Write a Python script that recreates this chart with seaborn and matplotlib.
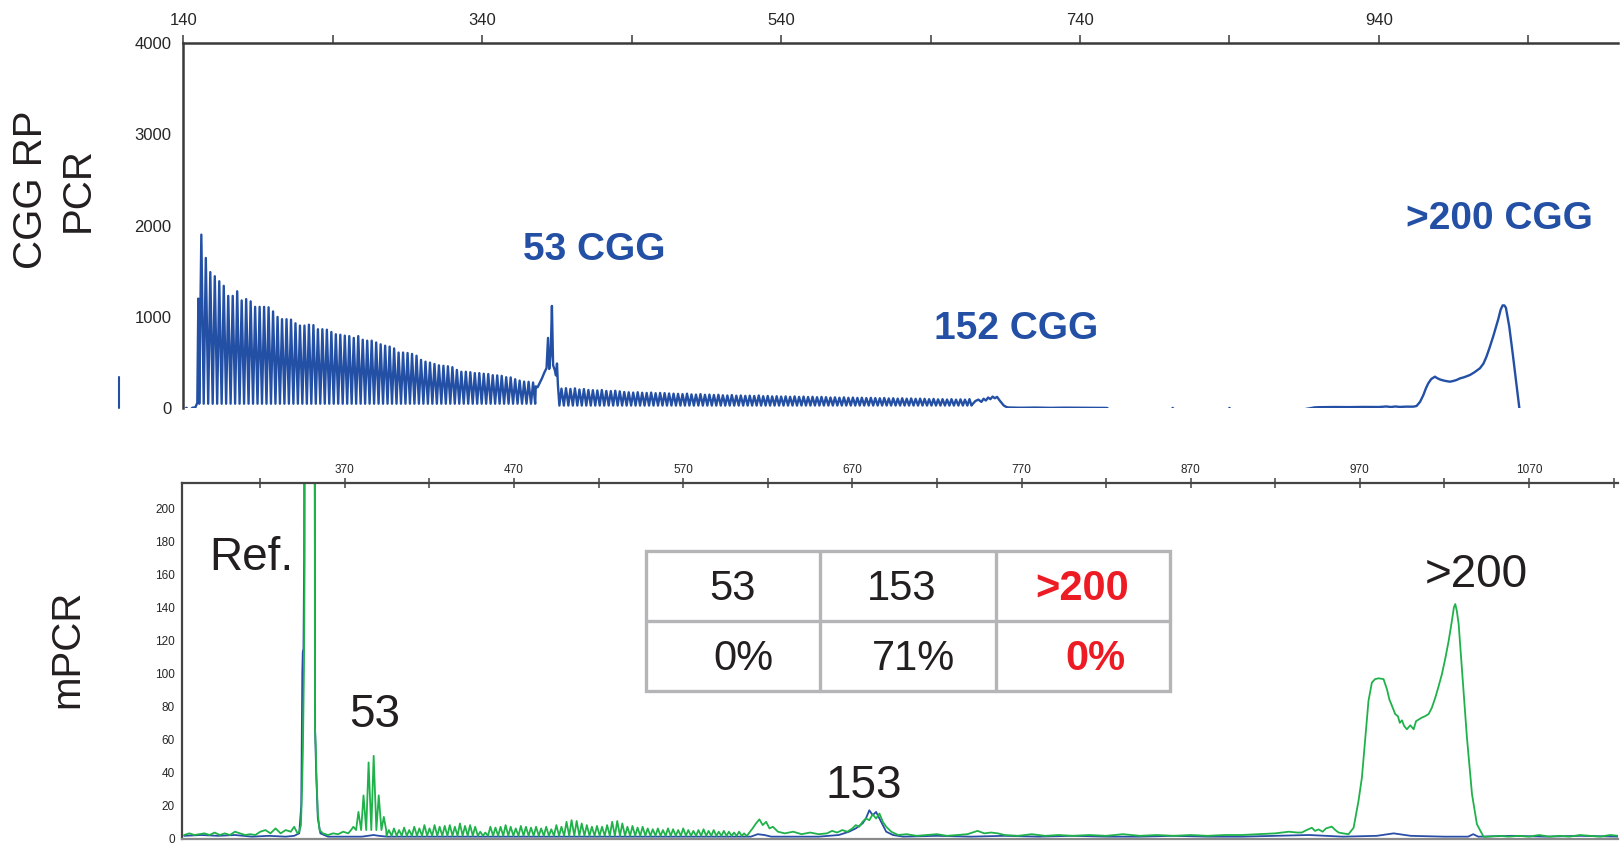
import matplotlib
matplotlib.use("Agg")
import matplotlib.pyplot as plt
import seaborn as sns
import pandas as pd
from matplotlib.lines import Line2D
from matplotlib.patches import Rectangle

# ---------------- data ----------------
# Top panel: CGG RP PCR, size (bp) vs fluorescence (RFU)
top_lead_bp = [140, 142, 144, 146, 148, 149.3, 150.0, 150.4]
top_lead_rfu = [-30, 6, -30, 6, 10, 60, 1200, 1000]

top_comb1_bp = [152, 155, 158, 161, 164, 167, 170, 173, 176, 179,
                182, 185, 188, 191, 194, 197, 200, 203, 206, 209,
                212, 215, 218, 221, 224, 227, 230, 233, 236, 239,
                242, 245, 248, 251, 254, 257, 260, 263, 266, 269,
                272, 275, 278, 281, 284, 287, 290, 293, 296, 299,
                302, 305, 308, 311, 314, 317, 320, 323, 326, 329,
                332, 335, 338, 341, 344, 347, 350, 353, 356, 359,
                362, 365, 368, 371, 374]
top_comb1_rfu = [1900, 1645, 1490, 1445, 1390, 1340, 1230, 1230, 1280, 1180,
                 1195, 1170, 1110, 1110, 1110, 1105, 1060, 1000, 975, 975,
                 970, 930, 905, 905, 915, 910, 865, 865, 860, 835,
                 810, 805, 795, 790, 770, 790, 750, 740, 740, 720,
                 700, 685, 675, 655, 610, 610, 605, 595, 575, 530,
                 510, 500, 485, 470, 465, 460, 450, 420, 400, 400,
                 395, 385, 385, 378, 375, 362, 360, 355, 340, 338,
                 318, 303, 292, 290, 282]
top_comb1_trough = 50

top_53_bp = [375.8, 377, 378.5, 380, 381.5, 383, 384, 384.8, 385.8, 386.6,
             387.4, 388.5, 389.3, 390, 390.6, 391.2]
top_53_rfu = [240, 230, 280, 330, 390, 440, 770, 430, 600, 1120,
              470, 420, 360, 490, 260, 120]

top_comb2_bp = [393, 396, 399, 402, 405, 408, 411, 414, 417, 420,
                423, 426, 429, 432, 435, 438, 441, 444, 447, 450,
                453, 456, 459, 462, 465, 468, 471, 474, 477, 480,
                483, 486, 489, 492, 495, 498, 501, 504, 507, 510,
                513, 516, 519, 522, 525, 528, 531, 534, 537, 540,
                543, 546, 549, 552, 555, 558, 561, 564, 567, 570,
                573, 576, 579, 582, 585, 588, 591, 594, 597, 600,
                603, 606, 609, 612, 615, 618, 621, 624, 627, 630,
                633, 636, 639, 642, 645, 648, 651, 654, 657, 660,
                663, 666]
top_comb2_rfu = [215, 220, 212, 218, 205, 210, 200, 198, 195, 200,
                 190, 188, 192, 185, 178, 175, 172, 176, 170, 168,
                 172, 165, 168, 166, 162, 160, 158, 155, 160, 152,
                 150, 155, 148, 150, 146, 148, 142, 140, 145, 138,
                 140, 136, 138, 135, 140, 132, 135, 130, 132, 128,
                 130, 126, 130, 125, 128, 124, 126, 122, 125, 122,
                 118, 120, 116, 120, 115, 118, 114, 116, 112, 115,
                 112, 110, 113, 108, 110, 106, 110, 105, 108, 104,
                 106, 104, 100, 103, 98, 100, 96, 100, 95, 98,
                 95, 100]
top_comb2_trough = 30

top_152_bp = [667.5, 670, 672, 674, 675.5, 677, 678.5, 680, 681.5, 683,
              684.5, 686, 687.5, 689, 691, 693]
top_152_rfu = [35, 80, 95, 70, 105, 85, 118, 100, 128, 110,
               125, 90, 60, 30, 12, 8]

top_base_bp = [695, 700, 710, 720, 730, 740, 750, 758, 762, 800,
               802, 804, 838, 840, 842, 880, 897, 900, 910, 920,
               930, 940, 945, 948, 951, 954, 958, 962]
top_base_rfu = [8, 6, 8, 5, 7, 6, 5, 4, -40, -40,
                4, -40, -40, 4, -40, -40, 10, 12, 14, 13,
                15, 14, 20, 14, 20, 15, 18, 18]

top_200_bp = [963, 965.2, 967.5, 969.7, 971.5, 973, 975, 977.5, 979, 980.8,
              983, 985, 987.5, 990, 992, 994.2, 997, 1000.9, 1004, 1007.6,
              1010, 1012, 1014, 1016.5, 1018, 1019.8, 1021.5, 1022.8, 1024, 1025,
              1027.2, 1029.5, 1031.7, 1034, 1035]
top_200_rfu = [18, 25, 70, 143, 220, 272, 320, 346, 330, 316,
               305, 298, 291, 300, 310, 327, 340, 364, 395, 438,
               490, 566, 660, 787, 870, 971, 1080, 1126, 1125, 1100,
               898, 604, 309, 0, -40]

# Bottom panel: mPCR, green channel
green_lead_bp = [275, 278, 281, 284, 287, 290, 293, 296, 299, 302, 305, 308,
                 311, 314, 317, 320, 323, 326, 329, 332, 335, 338, 340, 342]
green_lead_rfu = [2, 3, 2, 2.5, 3, 2, 3.5, 2, 3, 2, 4, 3,
                  2, 2.5, 2, 4, 5, 3, 6, 3, 5, 4, 7, 3]
green_ref_bp = [343, 344, 344.6, 345.2, 345.8, 346.2, 346.5, 347, 351.6, 352.1,
                352.3, 352.8, 353.2, 354, 355, 357, 360, 363, 366, 369, 372]
green_ref_rfu = [4, 8, 27, 55, 104, 168, 400, 1000, 1000, 300,
                 67, 55, 37, 15, 5, 3, 2, 3, 2.5, 4, 3]
green_53_bp = [375, 378, 381, 384, 387, 390, 393]
green_53_rfu = [7, 16, 26, 46, 50, 26, 13]
green_53_trough = 5
green_comb_bp = [396, 399, 402, 405, 408, 411, 414, 417, 420,
                 423, 426, 429, 432, 435, 438, 441, 444, 447,
                 450, 453,
                 456, 459, 462, 465, 468, 471, 474, 477, 480, 483,
                 486, 489, 492, 495, 498,
                 501, 504, 507, 510,
                 513, 516, 519, 522, 525,
                 528, 531, 534,
                 537, 540, 543, 546,
                 549, 552, 555, 558, 561, 564, 567, 570, 573, 576,
                 579, 582, 585, 588, 591, 594, 597, 600, 603, 606]
green_comb_rfu = [5, 6, 5, 6.5, 5, 7, 6, 8, 6,
                  8, 7, 7.5, 8, 7, 9, 7.5, 8, 7,
                  4, 3.5,
                  7, 6.5, 7, 8, 7, 6, 7.5, 7, 6.5, 7,
                  6, 7, 5.5, 8, 7,
                  10, 11, 10.5, 9,
                  8, 7, 7.5, 7, 8,
                  10, 10.5, 9,
                  7, 7.5, 6.5, 7,
                  6, 5.5, 6, 5, 6, 5.5, 5, 6, 5, 4.5,
                  5, 5.5, 4.5, 5, 4, 4.5, 4, 3.5, 4, 3]
green_comb_trough = 1.5
green_tail_bp = [608, 611, 613, 615, 617, 619, 621, 623, 626, 630,
                 635, 640, 645, 650, 655, 658, 661, 664, 667, 670,
                 672, 674, 676, 678, 680, 682, 684, 686, 688, 690,
                 693, 697, 702, 708, 714, 720, 726, 732, 738, 744,
                 748, 752, 756, 760, 768, 776, 784, 792, 800, 810,
                 820, 830, 840, 850, 860, 870, 880, 890, 900, 910,
                 920, 928, 933]
green_tail_rfu = [2, 6, 9, 11.5, 8, 10, 6, 7, 4, 3,
                  4, 2.5, 3.5, 2.5, 3, 4.5, 3.5, 5, 4, 6,
                  8, 7, 10, 12, 11, 14.5, 12, 15, 10, 7,
                  4, 2, 2.5, 1.5, 2, 2.5, 1.5, 2, 2.5, 4.5,
                  3, 3.5, 3, 2, 1.5, 2.5, 1.5, 2, 1.5, 2,
                  1.5, 2.5, 1.5, 2, 1.5, 2, 1.5, 2, 2, 2.5,
                  3, 4, 3.5]
green_200_bp = [935.7, 938.5, 941.6, 943.5, 945.6, 948, 950, 953.4, 955.5, 957.4,
                960, 963.3, 966.3, 969.2, 971.2, 973.2, 975.1, 977.1, 979, 981.1,
                984.0, 986.0, 987.5, 988.6, 990.9, 992.5, 993.6, 994.9, 996.2, 997.8,
                999.8, 1001.8, 1003.2, 1004.8, 1006.7, 1008.5, 1010.6, 1012.5, 1014.6, 1016.5,
                1018.5, 1020.5, 1022.5, 1024.4, 1025.6, 1026.4, 1027.3, 1028.4, 1030.4, 1033.3,
                1036.3, 1039.2, 1043.2]
green_200_rfu = [3.5, 5, 6.4, 4.5, 5.4, 4, 6, 7.1, 5, 3.5,
                 3, 2.5, 6.4, 22.7, 36.8, 61, 83.3, 94.4, 96.5, 97,
                 96.5, 90.4, 84, 81.3, 75.3, 74, 70, 71.5, 68, 66.1,
                 68.5, 66.1, 71, 72, 73.2, 74, 75.3, 79, 85.3, 92,
                 99.5, 109, 119.7, 131.8, 140, 142, 138, 129.9, 101.5, 61,
                 26.7, 8.5, 0.8]
green_end_bp = [1046, 1052, 1058, 1064, 1070, 1076, 1082, 1088, 1094, 1100, 1106, 1112, 1118, 1123]
green_end_rfu = [1, 1.5, 1, 1.5, 1, 2, 1, 1.5, 1, 2, 1.5, 1, 2, 1.5]

# Bottom panel: blue channel
blue_bp = [275, 285, 295, 305, 315, 325, 335, 340, 343, 344.2,
           344.8, 345.1, 345.5, 345.9, 346.2, 347, 351.6, 352, 352.4, 353,
           354, 355.5, 360, 370, 380, 387, 390, 395, 410, 430,
           450, 470, 490, 510, 530, 550, 570, 590, 610, 614,
           618, 622, 630, 650, 662, 668, 672, 676, 678, 680,
           682, 684, 686, 688, 690, 694, 700, 720, 740, 760,
           780, 800, 820, 840, 860, 880, 900, 920, 940, 950,
           960, 980, 990, 1000, 1020, 1034, 1037, 1040, 1060, 1080,
           1100, 1123]
blue_rfu = [1.5, 2, 1.5, 2, 1, 1.5, 1, 1.5, 3, 20,
            100, 113, 115, 170, 400, 1000, 1000, 400, 65, 40,
            12, 3, 1, 1, 1, 2, 1.5, 1, 1, 1,
            1, 1, 1, 1, 1, 1, 1, 1, 1, 2.5,
            2, 1, 1, 1, 2, 4, 6, 9, 12, 17,
            14, 16, 12, 8, 4, 2, 1, 1.5, 1, 1.5,
            1, 1.5, 1, 1, 1.5, 1, 1, 1.5, 2, 1.5,
            1, 1.5, 3, 1.5, 1, 1, 2.5, 1, 1.5, 1,
            1.5, 1]

# Axis ticks / labels
top_major_ticks = [140, 340, 540, 740, 940]
top_minor_ticks = [240, 440, 640, 840, 1040]
top_y_major = [0, 1000, 2000, 3000, 4000]
top_y_minor = [500, 1500, 2500, 3500]
bot_major_ticks = [370, 470, 570, 670, 770, 870, 970, 1070]
bot_minor_ticks = [320, 420, 520, 620, 720, 820, 920, 1020, 1120]
bot_y_major = [0, 20, 40, 60, 80, 100, 120, 140, 160, 180, 200]
bot_y_minor = [10, 30, 50, 70, 90, 110, 130, 150, 170, 190, 210]

top_annotations = [("53 CGG", 594, 250), ("152 CGG", 1016, 329), (">200 CGG", 1499, 219)]
bot_annotations = [("Ref.", 251, 558), ("53", 375, 715), ("153", 864, 786), (">200", 1476, 575)]
table_header = ["53", "153", ">200"]
table_values = ["0%", "71%", "0%"]
table_red = [False, False, True]

# ---------------- helpers ----------------
def comb(bp, rfu, trough, half=1.4):
    xs, ys = [], []
    for p, h in zip(bp, rfu):
        xs += [p - half, p]
        ys += [trough, h]
    xs.append(bp[-1] + half)
    ys.append(trough)
    return xs, ys

def join(*parts):
    xs, ys = [], []
    for x, y in parts:
        xs += list(x)
        ys += list(y)
    return xs, ys

# ---------------- figure ----------------
sns.set_style("white")
plt.rcParams["font.family"] = ["Liberation Sans", "DejaVu Sans"]

W, H = 1621, 843
fig = plt.figure(figsize=(W / 100, H / 100), dpi=100)

def fx(px):
    return px / W

def fy(py):
    return 1 - py / H

TOP_BLUE = "#2350A5"
BOT_BLUE = "#2A4EA6"
GREEN = "#1FB24A"
AXC = "#3a3a3a"

ax1 = fig.add_axes([fx(183.4), fy(408.3), (1618 - 183.4) / W, (408.3 - 42.7) / H])
ax2 = fig.add_axes([fx(182), fy(839.3), (1618 - 182) / W, (839.3 - 483.3) / H])

# top trace
tx, ty = join((top_lead_bp, top_lead_rfu),
              comb(top_comb1_bp, top_comb1_rfu, top_comb1_trough),
              (top_53_bp, top_53_rfu),
              comb(top_comb2_bp, top_comb2_rfu, top_comb2_trough),
              (top_152_bp, top_152_rfu),
              (top_base_bp, top_base_rfu),
              (top_200_bp, top_200_rfu))
df_top = pd.DataFrame({"bp": tx, "rfu": ty})
sns.lineplot(data=df_top, x="bp", y="rfu", sort=False, estimator=None,
             color=TOP_BLUE, linewidth=1.7, ax=ax1)

# bottom traces
df_blue = pd.DataFrame({"bp": blue_bp, "rfu": blue_rfu})
sns.lineplot(data=df_blue, x="bp", y="rfu", sort=False, estimator=None,
             color=BOT_BLUE, linewidth=1.3, ax=ax2)
gx, gy = join((green_lead_bp, green_lead_rfu),
              (green_ref_bp, green_ref_rfu),
              comb(green_53_bp, green_53_rfu, green_53_trough),
              comb(green_comb_bp, green_comb_rfu, green_comb_trough),
              (green_tail_bp, green_tail_rfu),
              (green_200_bp, green_200_rfu),
              (green_end_bp, green_end_rfu))
df_green = pd.DataFrame({"bp": gx, "rfu": gy})
sns.lineplot(data=df_green, x="bp", y="rfu", sort=False, estimator=None,
             color=GREEN, linewidth=1.3, ax=ax2)

# ---- top axes style
ax1.set_xlim(140, 1100)
ax1.set_ylim(0, 4000)
ax1.set_xlabel("")
ax1.set_ylabel("")
for s in ["right", "bottom"]:
    ax1.spines[s].set_visible(False)
for s in ["top", "left"]:
    ax1.spines[s].set_color(AXC)
    ax1.spines[s].set_linewidth(1.8)
ax1.xaxis.tick_top()
ax1.set_xticks(top_major_ticks)
ax1.set_xticks(top_minor_ticks, minor=True)
ax1.set_xticklabels([str(t) for t in top_major_ticks])
ax1.set_yticks(top_y_major)
ax1.set_yticks(top_y_minor, minor=True)
ax1.set_yticklabels([str(t) for t in top_y_major])
ax1.tick_params(axis="x", which="both", direction="out", length=6, width=1.1,
                color=AXC, pad=4.5, labelsize=12, top=True, bottom=False)
ax1.tick_params(axis="y", which="both", direction="out", length=5, width=1.1,
                color=AXC, pad=3.5, labelsize=12)

# ---- bottom axes style
ax2.set_xlim(273.7, 1122.6)
ax2.set_ylim(-0.6, 215.2)
ax2.set_xlabel("")
ax2.set_ylabel("")
ax2.spines["right"].set_visible(False)
for s in ["top", "left"]:
    ax2.spines[s].set_color("#444444")
    ax2.spines[s].set_linewidth(1.6)
ax2.spines["bottom"].set_color("#8a8a8a")
ax2.spines["bottom"].set_linewidth(1.6)
ax2.xaxis.tick_top()
ax2.set_xticks(bot_major_ticks)
ax2.set_xticks(bot_minor_ticks, minor=True)
ax2.set_xticklabels([str(t) for t in bot_major_ticks])
ax2.set_yticks(bot_y_major)
ax2.set_yticks(bot_y_minor, minor=True)
ax2.set_yticklabels([str(t) for t in bot_y_major])
ax2.tick_params(axis="x", which="both", direction="inout", length=7, width=1.1,
                color="#444444", pad=1.5, labelsize=8.5, top=True, bottom=False)
ax2.tick_params(axis="y", which="both", direction="inout", length=6, width=1.0,
                color="#444444", pad=2, labelsize=8.5)

# ---- annotations
for txt, x, y in top_annotations:
    fig.text(fx(x), fy(y), txt, ha="center", va="center", fontsize=28,
             fontweight="bold", color="#2350A5")
for txt, x, y in bot_annotations:
    fig.text(fx(x), fy(y), txt, ha="center", va="center", fontsize=33,
             color="#231F20")

fig.text(fx(31), fy(190), "CGG RP", rotation=90, ha="center", va="center",
         fontsize=29, color="#231F20")
fig.text(fx(77.5), fy(190), "PCR", rotation=90, ha="center", va="center",
         fontsize=29, color="#231F20")
fig.text(fx(67), fy(649), "mPCR", rotation=90, ha="center", va="center",
         fontsize=29, color="#231F20")

# stray trace fragment left of the top axis
fig.add_artist(Line2D([fx(119), fx(119)], [fy(377), fy(408)], color=TOP_BLUE,
                      lw=1.5, transform=fig.transFigure))

# ---- table
TL, TR, TT, TB = 646, 1170, 551, 691
col_edges = [646, 820, 995.5, 1170]
row_mid = 621
GRID = "#B5B5B7"
fig.add_artist(Rectangle((fx(TL), fy(TB)), (TR - TL) / W, (TB - TT) / H,
                         transform=fig.transFigure, fill=True, facecolor="white",
                         edgecolor=GRID, linewidth=2.4, zorder=5))
for cx in col_edges[1:-1]:
    fig.add_artist(Line2D([fx(cx), fx(cx)], [fy(TT), fy(TB)], color=GRID, lw=2.4,
                          transform=fig.transFigure, zorder=6))
fig.add_artist(Line2D([fx(TL), fx(TR)], [fy(row_mid), fy(row_mid)], color=GRID, lw=2.4,
                      transform=fig.transFigure, zorder=6))
head_x = [732, 901.5, 1082]
val_x = [743, 913, 1095]
for i in range(3):
    red = table_red[i]
    kw = dict(ha="center", va="center", fontsize=30, zorder=7,
              color="#ED1C24" if red else "#231F20",
              fontweight="bold" if red else "normal")
    fig.text(fx(head_x[i]), fy(589), table_header[i], **kw)
    fig.text(fx(val_x[i]), fy(658.5), table_values[i], **kw)

fig.savefig("out.png", dpi=100)
